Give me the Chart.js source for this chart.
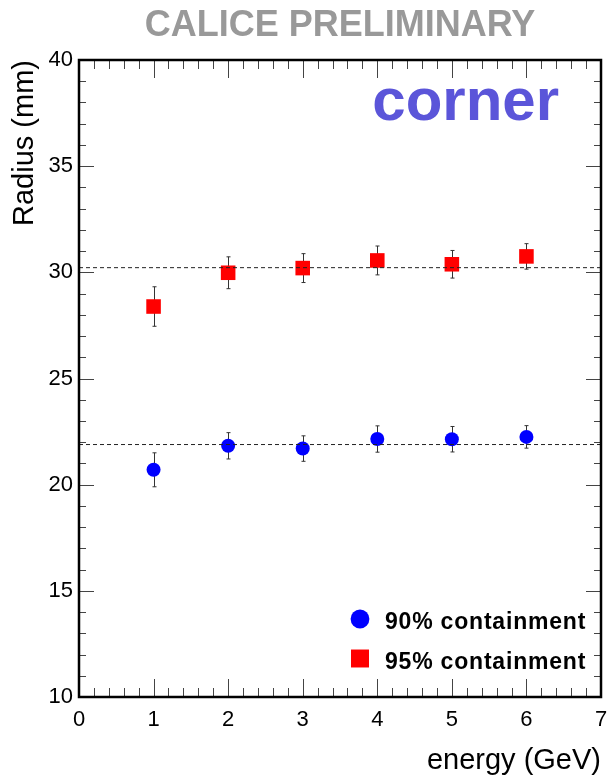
<!DOCTYPE html>
<html>
<head>
<meta charset="utf-8">
<script src="https://cdn.jsdelivr.net/npm/chart.js@4/dist/chart.umd.min.js"></script>
<style>
  html, body { margin: 0; padding: 0; background: #fff; }
  canvas { display: block; }
</style>
</head>
<body>
<canvas id="chart" width="609" height="778"></canvas>
<script>
'use strict';
// data
const ENERGY = [1, 2, 3, 4, 5, 6];
const R90 = [20.7, 21.83, 21.7, 22.15, 22.14, 22.25];
const R90_ERR = [0.8, 0.62, 0.6, 0.62, 0.6, 0.53];
const R95 = [28.39, 29.98, 30.2, 30.56, 30.38, 30.75];
const R95_ERR = [0.93, 0.75, 0.68, 0.68, 0.65, 0.6];
// horizontal fit levels
const FIT90 = 21.89;
const FIT95 = 30.22;
const X_RANGE = [0, 7];
const Y_RANGE = [10, 40];
const LABELS = ['90% containment', '95% containment'];

// minor tick subdivisions
const X_MINOR = 5;
const Y_MINOR = 5;

Chart.defaults.font.family = '"Liberation Sans", Arial, sans-serif';
Chart.defaults.color = '#000';

function toPoints(xs, ys) {
  return xs.map((x, i) => ({ x: x, y: ys[i] }));
}

// error bars (behind markers)
const errorBars = {
  id: 'errorBars',
  beforeDatasetsDraw(chart) {
    const { ctx, scales: { x, y } } = chart;
    ctx.save();
    ctx.strokeStyle = '#333';
    ctx.lineWidth = 1;
    chart.data.datasets.forEach((ds) => {
      if (!ds.errors) return;
      ds.data.forEach((p, i) => {
        const px = Math.round(x.getPixelForValue(p.x)) + 0.5;
        const top = y.getPixelForValue(p.y + ds.errors[i]);
        const bot = y.getPixelForValue(p.y - ds.errors[i]);
        ctx.beginPath();
        ctx.moveTo(px, top);
        ctx.lineTo(px, bot);
        ctx.moveTo(px - 2, top);
        ctx.lineTo(px + 2, top);
        ctx.moveTo(px - 2, bot);
        ctx.lineTo(px + 2, bot);
        ctx.stroke();
      });
    });
    ctx.restore();
  },
};

// frame and inward ticks, ROOT style
const frameTicks = {
  id: 'frameTicks',
  afterDatasetsDraw(chart) {
    const { ctx, chartArea: a, scales: { x, y } } = chart;
    ctx.save();
    ctx.strokeStyle = '#444';
    ctx.lineWidth = 1;
    ctx.beginPath();
    const xt = x.ticks.map((t) => t.value);
    for (let i = 0; i < xt.length; i++) {
      const px = Math.round(x.getPixelForValue(xt[i])) + 0.5;
      ctx.moveTo(px, a.bottom); ctx.lineTo(px, a.bottom - 18);
      ctx.moveTo(px, a.top); ctx.lineTo(px, a.top + 18);
      if (i < xt.length - 1) {
        const step = (xt[i + 1] - xt[i]) / X_MINOR;
        for (let k = 1; k < X_MINOR; k++) {
          const mx = Math.round(x.getPixelForValue(xt[i] + k * step)) + 0.5;
          ctx.moveTo(mx, a.bottom); ctx.lineTo(mx, a.bottom - 9);
          ctx.moveTo(mx, a.top); ctx.lineTo(mx, a.top + 9);
        }
      }
    }
    const yt = y.ticks.map((t) => t.value);
    for (let i = 0; i < yt.length; i++) {
      const py = Math.round(y.getPixelForValue(yt[i])) + 0.5;
      ctx.moveTo(a.left, py); ctx.lineTo(a.left + 15, py);
      ctx.moveTo(a.right, py); ctx.lineTo(a.right - 15, py);
      if (i < yt.length - 1) {
        const step = (yt[i + 1] - yt[i]) / Y_MINOR;
        for (let k = 1; k < Y_MINOR; k++) {
          const my = Math.round(y.getPixelForValue(yt[i] + k * step)) + 0.5;
          ctx.moveTo(a.left, my); ctx.lineTo(a.left + 7, my);
          ctx.moveTo(a.right, my); ctx.lineTo(a.right - 7, my);
        }
      }
    }
    ctx.stroke();
    ctx.strokeStyle = '#000';
    ctx.lineWidth = 2.5;
    ctx.strokeRect(a.left, a.top, a.right - a.left, a.bottom - a.top);
    ctx.restore();
  },
};

// header texts and legend
const overlay = {
  id: 'overlay',
  afterDraw(chart) {
    const { ctx, chartArea: a } = chart;
    ctx.save();
    ctx.textBaseline = 'alphabetic';
    ctx.font = 'bold 36px "Liberation Sans"';
    ctx.fillStyle = '#999999';
    ctx.textAlign = 'center';
    ctx.fillText('CALICE PRELIMINARY', 340, 36);

    ctx.font = 'bold 60px "Liberation Sans"';
    ctx.fillStyle = '#5b55d9';
    ctx.textAlign = 'right';
    ctx.fillText('corner', a.right - 42, 120);

    ctx.font = 'bold 23px "Liberation Sans"';
    ctx.letterSpacing = '0.8px';
    ctx.textAlign = 'left';
    const items = chart.data.datasets.filter((d) => d.errors);
    items.forEach((d, i) => {
      const cy = a.bottom - 78 + i * 39.5;
      ctx.fillStyle = d.backgroundColor;
      Chart.helpers.drawPoint(ctx, {
        pointStyle: d.pointStyle,
        radius: d.pointStyle === 'rect' ? 12.7 : 9.4,
        rotation: 0,
        borderWidth: 0,
      }, a.left + 281, cy);
      ctx.fillStyle = '#000';
      ctx.fillText(d.label, a.left + 306, cy + 10.3);
    });
    ctx.restore();
  },
};

const ctx = document.getElementById('chart');
new Chart(ctx, {
  type: 'scatter',
  data: {
    datasets: [
      {
        data: toPoints(X_RANGE, [FIT95, FIT95]),
        showLine: true,
        borderColor: '#222',
        borderWidth: 1,
        borderDash: [4, 3],
        pointRadius: 0,
        fill: false,
      },
      {
        data: toPoints(X_RANGE, [FIT90, FIT90]),
        showLine: true,
        borderColor: '#222',
        borderWidth: 1,
        borderDash: [4, 3],
        pointRadius: 0,
        fill: false,
      },
      {
        label: LABELS[0],
        data: toPoints(ENERGY, R90),
        errors: R90_ERR,
        pointStyle: 'circle',
        pointRadius: 7,
        backgroundColor: '#0000ff',
        borderColor: '#0000ff',
        borderWidth: 0,
      },
      {
        label: LABELS[1],
        data: toPoints(ENERGY, R95),
        errors: R95_ERR,
        pointStyle: 'rect',
        pointRadius: 10.3,
        backgroundColor: '#ff0000',
        borderColor: '#ff0000',
        borderWidth: 0,
      },
    ],
  },
  options: {
    responsive: false,
    animation: false,
    events: [],
    layout: { autoPadding: false, padding: { top: 60, right: 8, bottom: 0, left: 0 } },
    plugins: {
      legend: { display: false },
      tooltip: { enabled: false },
    },
    scales: {
      x: {
        type: 'linear',
        min: X_RANGE[0],
        max: X_RANGE[1],
        grid: { display: false, drawTicks: false },
        border: { display: false },
        ticks: { stepSize: 1, padding: 0, maxRotation: 0, font: { size: 22, lineHeight: 2.1 } },
        title: {
          display: true,
          text: 'energy (GeV)',
          align: 'end',
          font: { size: 29 },
          padding: { top: 0, bottom: 0 },
        },
        afterFit(scale) {
          scale.height = 81;
          scale.paddingLeft = 0;
          scale.paddingRight = 0;
        },
      },
      y: {
        type: 'linear',
        min: Y_RANGE[0],
        max: Y_RANGE[1],
        grid: { display: false, drawTicks: false },
        border: { display: false },
        ticks: { stepSize: 5, padding: 6, font: { size: 22 } },
        title: {
          display: true,
          text: 'Radius (mm)',
          align: 'end',
          font: { size: 29 },
          padding: { top: 8, bottom: 0 },
        },
        afterFit(scale) {
          scale.width = 79;
          scale.paddingTop = 0;
          scale.paddingBottom = 0;
        },
      },
    },
  },
  plugins: [errorBars, frameTicks, overlay],
});
</script>
</body>
</html>
